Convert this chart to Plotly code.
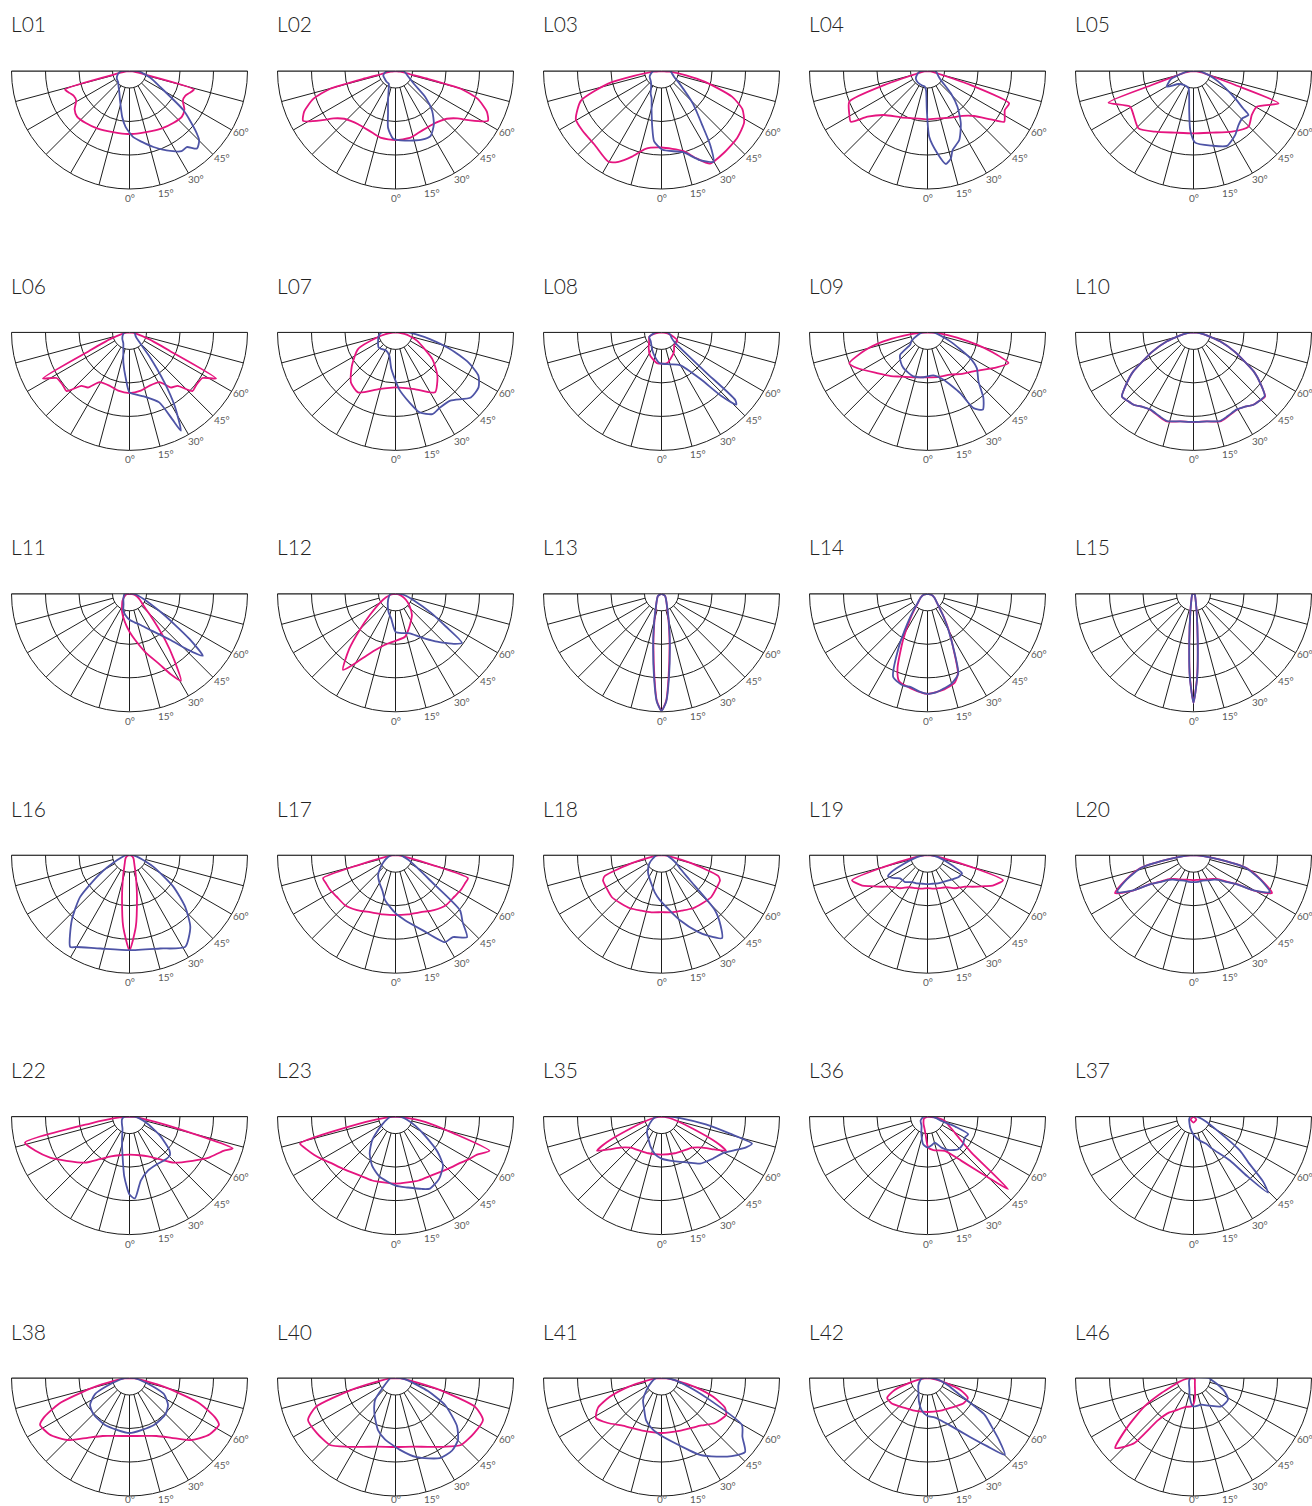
import math
import plotly.graph_objects as go

# ---------------- data: (gamma angle in degrees, relative intensity) ----------------
# angle 0 = straight down, positive = towards the labelled (right) side
CHART_NAMES = ["L01", "L02", "L03", "L04", "L05",
               "L06", "L07", "L08", "L09", "L10",
               "L11", "L12", "L13", "L14", "L15",
               "L16", "L17", "L18", "L19", "L20",
               "L22", "L23", "L35", "L36", "L37",
               "L38", "L40", "L41", "L42", "L46"]

ANGLE_TICKS = [0, 15, 30, 45, 60]
ANGLE_TICK_TEXT = ["0°", "15°", "30°", "45°", "60°"]
RING_VALUES = [17, 50.5, 84, 118]
SPOKE_ANGLES = [-90, -75, -60, -45, -30, -15, 0, 15, 30, 45, 60, 75, 90]

L01_C0 = [(-90,0),(-84,3),(-78,12),(-74,67),(-70,64),(-66,61),(-61,61),(-55,67),(-49,69.5),(-40,68),(-30,66),(-20,64),(-10,63),(0,63),(10,63),(20,64),(30,66),(40,68),(49,69.5),(55,67),(61,61),(66,61),(70,64),(74,67),(78,12),(84,3),(90,0)]
L01_C90 = [(-90,8),(-75,12),(-60,14.7),(-45,16),(-38,18),(-25,24),(-18,30.7),(-9,46.6),(-4,56),(3,66),(10,72),(17.5,79.7),(25,87.7),(33,95.6),(37,95.2),(41,102.8),(45,98.5),(48,88.5),(54,66.8),(62.5,34.6),(72,22),(80,14),(86,10.7),(90,9)]

L02_C0 = [(-90,0),(-82,5),(-77.5,15),(-76.5,32),(-74.8,67.6),(-71.3,86.8),(-66,100),(-61.6,105),(-56,88),(-52.6,78),(-47,70),(-42,67),(-35,65),(-29,64.8),(-20,66),(-12,68.4),(0,69),(12,68.4),(20,66),(29,64.8),(35,65),(42,67),(47,70),(52.6,78),(56,88),(61.6,105),(66,100),(71.3,86.8),(74.8,67.6),(76.5,32),(77.5,15),(82,5),(90,0)]
L02_C90 = [(-90,8),(-80,11),(-70,13),(-55.5,13.2),(-40,14),(-28,14.3),(-20,20),(-14.2,30.5),(-10,43),(-7.5,57.2),(-2,67.7),(7.8,70.3),(21,73.6),(28.2,74),(35.7,65.7),(42.7,54),(48.8,39.7),(54,24.3),(66,14.1),(80,10),(90,8)]

L03_C0 = [(-90,0),(-85,8),(-80,28),(-76.7,54.8),(-69.8,85.8),(-60.6,98.3),(-52.7,99),(-42.2,99.6),(-30.5,105),(-25.4,100.5),(-19,90.6),(-11.6,79.4),(0,76.5),(15,82.7),(21.8,94),(27.7,104.5),(37,103),(48.5,101),(58,97.4),(64.8,89.4),(70,75),(76,45),(80,25),(85,8),(90,0)]
L03_C90 = [(-90,8),(-75,11),(-64,13.2),(-45,15),(-35,18),(-25.5,25.2),(-20,29),(-14,41),(-9.2,57.5),(-6,70.7),(0.7,78.8),(14.8,84),(23.3,97),(29.8,104.6),(33.4,88.3),(36.4,70.5),(43.8,45.6),(55,22),(65,14),(75,11),(90,9)]

L04_C0 = [(-90,0),(-85,3),(-80,6),(-75,15),(-72,45),(-68.6,84),(-61.6,89),(-56.5,92),(-52.7,75.4),(-44.6,61.8),(-30,53.5),(-15,49),(0,48.3),(15,49),(26.6,52.2),(38,57),(46,64.8),(52.6,79.7),(56.5,92),(63.2,86.6),(68.4,87.8),(72,45),(75,15),(80,6),(85,3),(90,0)]
L04_C90 = [(-90,7),(-75,10),(-58,13.8),(-40,15),(-20,15.5),(-9.7,15.9),(-4,20),(-1,39),(1.5,65.7),(6.9,83),(11.2,94.8),(15,90.4),(17.6,82.9),(24.7,76),(32.5,62),(40,46.6),(46.3,32.3),(56,16),(65,12),(75,10),(90,8)]

L05_C0 = [(-90,0),(-85,3),(-80,8),(-74,20),(-71.4,44),(-69.6,90.7),(-60.6,72.7),(-53.7,74.4),(-43.8,79.4),(-32.3,71.8),(-16.6,64.3),(0,62.3),(16.6,64.3),(32.3,71.8),(44.7,78.2),(53,73),(60.6,72.7),(69.2,91),(71.4,44),(74,20),(80,8),(85,3),(90,0)]
L05_C90 = [(-90,5),(-80,10),(-70,24),(-59.6,31),(-49,19.8),(-35,17),(-16,18),(-10,25),(-6.3,39.2),(-3.2,59),(1.3,71.7),(13.8,76.9),(24,82),(33,76.4),(39.8,70.3),(46,68),(51.3,70.4),(53,62),(56.7,49.8),(66.9,27),(75,16),(85,8),(90,6)]

L06_C0 = [(-90,0),(-84,3),(-78,8),(-71,20.6),(-65.4,44),(-62,98),(-58,86),(-52,85),(-47,86),(-42,72),(-37,69),(-31,58),(-20,57),(-11,59.4),(0,60.7),(11,59.4),(20,57),(31,58),(37,69),(42,72),(47,86),(52,85),(58,86),(62,98),(65.4,44),(71,20.6),(78,8),(84,3),(90,0)]
L06_C90 = [(-90,5),(-70,7),(-47,9.8),(-30,12.4),(-20,18),(-11.6,30.6),(-4.4,46.8),(0,60),(12.7,65.6),(23,76),(26.2,96.6),(27.6,110.9),(31.6,86),(34.9,61),(39.9,30.4),(53,8.4),(70,6),(90,5)]

L07_C0 = [(-90,0),(-85,4),(-80,10),(-75,18),(-66,41),(-52.6,54.9),(-41.7,67),(-32,70.7),(-16.6,59.2),(0,55),(18.5,59.8),(33.4,71.8),(44,60.3),(54.1,45.5),(68.9,23),(75,15),(80,9),(85,4),(90,0)]
L07_C90 = [(-90,14),(-76.7,17.4),(-48.4,22.6),(-26.7,20.5),(-15,24),(-6.4,36.9),(3.6,56.8),(11.2,71.3),(16.8,83.6),(24.3,89.6),(30.7,87.3),(38.8,87.6),(49.2,99.5),(56.5,99.6),(62.4,93.6),(67.6,78.8),(73,57.4),(79,35),(85,20),(90,13)]

L08_C0 = [(-90,0),(-80,6),(-70,13),(-51,15.9),(-40,20),(-25.9,25.9),(-8.5,31),(10.4,31.2),(31.6,23.5),(45,18),(62.4,17.9),(70,13),(80,6),(90,0)]
L08_C90 = [(-90,6),(-70,13),(-50,14),(-30,19),(-17.1,24.4),(-3.7,30.8),(15,33),(29.5,37.6),(39.9,60.8),(43.2,86.9),(46,104),(47.5,100),(48,60),(49.5,30),(53,16.6),(60,12),(75,9),(90,6)]

L09_C0 = [(-90,0),(-86,8),(-82,25),(-78.4,45),(-74,65),(-68.5,84),(-63.2,79),(-51.2,65),(-40,57),(-31.8,52),(-15,46.5),(0,45),(15,46),(28.2,48),(40,54),(49.7,60.3),(63.2,77.6),(69.3,86.6),(73,68),(76,50.8),(80,30),(85,12),(90,0)]
L09_C90 = [(-90,5),(-75,10),(-62,18),(-54.6,21.3),(-50.7,35.3),(-42,40),(-33.9,43),(-17.6,46.2),(-5,45),(7.9,43.4),(18.7,50),(28.3,68.9),(31.3,88.6),(35.6,95),(40.4,86.3),(46.1,70.7),(54.1,60.9),(59,49.8),(68.4,24.4),(78,12),(90,6)]

L10_C0 = [(-90,0),(-85,5),(-80,10),(-75,18),(-71.4,28),(-65,45),(-57,72),(-52,86),(-48.2,96),(-44,95),(-39.7,94),(-34,90),(-29.3,88.6),(-22,91),(-16.7,93),(-8.5,90),(0,89.7),(8.5,90),(16.7,93),(22,91),(29.3,88.6),(34,90),(39.7,94),(44,95),(48.2,96),(52,86),(57,72),(65,45),(71.4,28),(75,18),(80,10),(85,5),(90,0)]
L10_C90 = [(-90,0),(-85,5),(-80,10),(-75,18),(-71.4,28),(-65,45),(-57,72),(-52,86),(-48.2,96),(-44,95),(-39.7,94),(-34,90),(-29.3,88.3),(-22,90.5),(-16.7,92.5),(-8.5,90),(0,89.5),(8.5,90),(16.7,92.5),(22,90.5),(29.3,88.3),(34,90),(39.7,94),(44,95),(48.2,95.5),(52,86),(57,72),(65,45),(71.4,28),(75,18),(80,10),(85,5),(90,0)]

L11_C0 = [(-90,0),(-80,3),(-60,6),(-45,10),(-30,15),(-22.6,19.5),(-10,28),(0,38),(6.8,46.3),(15,60),(23.2,77),(27,90),(30.6,101),(34,80),(37.7,58),(44.3,29.3),(50,18),(60,12),(70,8),(80,4),(90,0)]
L11_C90 = [(-90,5),(-70,6),(-50,8),(-30,12),(-20,18),(-10,22),(0,26),(10,29),(18.7,32.7),(30,42),(41.4,61.3),(46,80),(49.8,96),(53,75),(55.7,55),(60,35),(70,15),(80,8),(90,5)]

L12_C0 = [(-90,0),(-80,4),(-70,10),(-60,18),(-50.5,33),(-45,50),(-40,72),(-34.6,92.4),(-30,80),(-25,68),(-20,60),(-11.6,52),(0,47),(12.5,44),(20,38),(30,31),(38,26.7),(50,18),(60,12),(70,7),(80,3),(90,0)]
L12_C90 = [(-90,5),(-60,8),(-40,12),(-20,20),(-10,25),(0,38),(10,40),(20,42),(30,50),(40,62),(50,78),(53.6,82.6),(57,60),(62,40),(70,20),(80,10),(90,5)]

L13_C0 = [(-90,0),(-60,4),(-45,6),(-30,10),(-20,17),(-15,27),(-10,46),(-5,82),(-2.5,107),(0,117),(2.5,107),(5,82),(10,46),(15,27),(20,17),(30,10),(45,6),(60,4),(90,0)]
L13_C90 = [(-90,0),(-60,4),(-45,6),(-30,10),(-20,18),(-15,28),(-10,48),(-5,85),(-2.5,108),(0,117),(2.5,108),(5,85),(10,48),(15,28),(20,18),(30,10),(45,6),(60,4),(90,0)]

L14_C0 = [(-90,0),(-75,4),(-60,8),(-45,14),(-40,20),(-34,32),(-28,52),(-22,80),(-18,92),(-10,96),(0,100),(10,97),(17,93),(21,85),(25,62),(30,43),(35,29),(45,14),(60,8),(75,4),(90,0)]
L14_C90 = [(-90,0),(-75,4),(-60,8),(-45.8,14.4),(-40,22),(-34,36),(-28.3,60.5),(-22.4,90),(-15,95),(-10.1,94.8),(-5,98),(0,100),(5,99),(10,96),(15,93),(21,85.7),(25.7,59.2),(30,42),(35,28),(45,14),(60,8),(75,4),(90,0)]

L15_C0 = [(-90,0),(-60,1.5),(-30,3.5),(-20,6),(-10,18),(-5,48),(-2.5,83),(0,109),(2.5,83),(5,48),(10,18),(20,6),(30,3.5),(60,1.5),(90,0)]
L15_C90 = [(-90,0),(-60,1.5),(-30,3.5),(-20,6),(-10,18),(-5,49),(-2.5,84),(0,109),(2.5,84),(5,49),(10,18),(20,6),(30,3.5),(60,1.5),(90,0)]

L16_C0 = [(-90,0),(-75,2),(-60,4),(-45,6),(-30,9.5),(-20,17),(-15,26),(-10,43),(-5,72),(0,95),(5,72),(10,43),(15,26),(20,17),(30,9.5),(45,6),(60,4),(75,2),(90,0)]
L16_C90 = [(-90,3),(-80,6),(-68,13.6),(-58,34.6),(-49.8,64.6),(-41.6,86.9),(-32.9,109.2),(-30,106),(-17.4,97.8),(0,95),(18.2,98.2),(31.3,107.3),(40.3,94),(47.1,76),(54.2,54.2),(64,26.7),(72,13),(80,7),(90,3)]

L17_C0 = [(-90,0),(-85,3),(-80,10),(-75,40),(-72.4,76),(-68,75),(-61.9,74),(-55,72),(-45.3,71),(-35,67),(-24,62.4),(-12,60.5),(0,60),(12,60.5),(24,62.4),(35,67),(45.3,71),(55,72),(61.9,74),(68,75),(72.4,76),(75,40),(80,10),(85,3),(90,0)]
L17_C90 = [(-90,4),(-75,8),(-60,14),(-50,20),(-41,26.6),(-30,32),(-20,38),(-13.1,46.2),(0,58),(8.3,65.7),(20,80),(29.6,100),(35,100),(41.1,108.8),(45,95),(49.5,84.8),(54,42.6),(60,25),(70,14),(80,8),(90,5)]

L18_C0 = [(-90,0),(-85,3),(-80,10),(-75,30),(-70,60),(-66.9,63.6),(-60,64),(-49.7,65),(-40,63),(-30.7,61.7),(-20,59),(-10,58),(0,57),(10,58),(20,59),(30.7,61.7),(40,63),(49.7,65),(60,64),(66.9,63.6),(70,60),(75,30),(80,10),(85,3),(90,0)]
L18_C90 = [(-90,5),(-70,9),(-55,15),(-38.5,21.7),(-30,25),(-20,30),(-10,38),(-2,45),(10,58),(15.9,67.6),(25,84),(30,93),(36.1,102.7),(40,92),(44.2,76.7),(48.7,37.9),(55,22),(60,18),(70,11),(80,7),(90,5)]

L19_C0 = [(-90,0),(-85,5),(-80,15),(-75,45),(-71.7,79.5),(-65,72),(-61.7,65.3),(-55,55),(-50,49),(-39.8,43),(-30,37),(-20,35),(-10,34),(0,33),(10,34),(20,35),(30,37),(39.8,43),(50,49),(55,55),(61.7,65.3),(65,72),(71.7,79.5),(75,45),(80,15),(85,5),(90,0)]
L19_C90 = [(-90,3),(-80,10),(-70,25),(-65,40),(-62,44.7),(-55,40),(-50,36),(-39.8,35),(-30,31),(-20,30),(-10,29),(0,29),(10,29),(20,30),(30,31),(40,33),(50,36),(55,38),(62.4,38.9),(65,33),(70,22),(80,10),(90,3)]

L20_C0 = [(-90,0),(-85,10),(-80,30),(-76.3,55),(-70,72),(-64.2,87.2),(-60,72),(-56.3,52.3),(-50,40),(-45,34),(-40,31),(-30,28),(-20,26),(-10,25),(0,25),(10,25),(20,26),(30,28),(40,31),(45,34),(50,40),(56.3,52.3),(60,72),(64.2,87.2),(70,72),(76.3,55),(80,30),(85,10),(90,0)]
L20_C90 = [(-90,0),(-85,10),(-80,29),(-76.3,54),(-70,71),(-64.2,85),(-60,71),(-56.3,53),(-50,41),(-45,35),(-40,32),(-30,29),(-20,27),(-10,27),(0,27),(10,27),(20,27),(30,29),(40,32),(45,35),(50,41),(56.3,53),(60,71),(64.2,85),(70,71),(76.3,54),(80,29),(85,10),(90,0)]

L22_C0 = [(-90,0),(-85,10),(-80,40),(-76,107.7),(-70,100),(-62.7,89.4),(-55,77),(-44,64),(-35,52),(-25,44),(-15,40),(0,38),(15,40),(25,44),(35,52),(44,64),(55,77),(62.7,89.4),(70,100),(72.8,108),(77,40),(82,12),(86,5),(90,0)]
L22_C90 = [(-90,5),(-70,8),(-50,10),(-30,14),(-17.4,25),(-10,40),(-5,60),(0,78),(3.8,82),(10,65),(18.9,57),(30,55),(40,56),(46,56),(50,52),(58,36),(70,18),(80,10),(90,5)]

L23_C0 = [(-90,0),(-85,8),(-80,30),(-74.2,99.2),(-70,95),(-65,90),(-60,85),(-54.9,80),(-45,74),(-31,68.9),(-20,68),(0,67),(20,68),(31,68.9),(45,74),(54.9,80),(60,85),(65,90),(70,100),(74,60),(80,30),(85,8),(90,0)]
L23_C90 = [(-90,5),(-75,8),(-60,15),(-50,25),(-44.4,33.6),(-35,45),(-25.6,54.3),(-15,62),(0,69),(10,72),(20,77),(25.6,79.8),(35,76),(44.1,68.2),(50,55),(57.2,35),(65,22),(75,12),(90,5)]

L35_C0 = [(-90,0),(-85,3),(-80,8),(-75,15),(-69,33.7),(-65,60),(-62.2,72.9),(-58,62),(-55,55),(-50,48),(-45,44),(-40,42),(-30,40),(-20,39),(0,38),(20,39),(30,40),(40,42),(45,44),(50,48),(55,55),(58,62),(62.2,72.9),(65,60),(69,33.7),(75,15),(80,8),(85,3),(90,0)]
L35_C90 = [(-90,5),(-70,10),(-50,18),(-42.2,21.6),(-30,26),(-20,32),(-10,38),(0,42),(10.9,44.8),(20,48),(30,53),(39.3,60.8),(50,66),(60,72),(65,80),(70,90),(73.4,94.4),(76,70.6),(80,45),(85,20),(90,8)]

L36_C0 = [(-90,0),(-60,4),(-30,8),(-15,12),(-6.6,17.4),(1.3,31),(10,34),(26.8,38.4),(37.5,55.8),(44.9,86),(48,108.5),(50.7,56.8),(55,40),(59.6,31.6),(66,24),(76,17.8),(82,10),(90,0)]
L36_C90 = [(-90,4),(-60,8),(-32.8,11),(-20,18),(-8.9,28),(0,31),(8,29),(15.7,27),(24.3,34),(33,40),(43.3,44.8),(52,45),(60.6,42.8),(66.6,44.3),(70,30),(73,14.6),(80,9),(90,5)]

L37_C0 = [(-90,0),(-45,4),(0,6),(45,4),(90,0)]
L37_C90 = [(-90,3),(-60,5),(-30,8),(-15,12),(0,18),(15,25),(25,30),(30,37),(39.7,57),(42,80),(44.4,106.4),(47,95),(50,72),(53.8,57.6),(60.8,24.6),(70,12),(80,6),(90,3)]

L38_C0 = [(-90,0),(-85,5),(-80,15),(-75,40),(-70,75),(-65,95),(-62.3,101),(-55,98),(-50,93),(-43.8,86),(-35,73),(-25,64),(-15,60),(0,58),(15,60),(25,64),(35,73),(43.8,86),(50,93),(55,98),(62.3,101),(65,95),(70,75),(75,40),(80,15),(85,5),(90,0)]
L38_C90 = [(-90,5),(-80,10),(-70,25),(-65,38),(-55.6,47.8),(-45,51),(-27.5,53),(0,55),(27.5,53),(45,51),(55,47),(65,38),(70,25),(80,10),(90,5)]

L40_C0 = [(-90,0),(-85,5),(-80,15),(-75,45),(-70,85),(-64.4,97),(-55,96),(-44.4,93.7),(-35,84),(-25,76),(-15,71),(0,69),(15,71),(25,76),(35,84),(44.4,93.7),(55,96),(64.4,97),(70,85),(75,45),(80,15),(85,5),(90,0)]
L40_C90 = [(-90,5),(-70,8),(-55,14),(-43,30),(-30,42),(-18.6,54.9),(-10,62),(3.6,72),(15,82),(29,91.5),(38,92),(45.2,88),(52,78),(61.4,56.4),(68,35),(80,12),(90,5)]

L41_C0 = [(-90,0),(-85,5),(-80,15),(-75,35),(-70,55),(-65,70),(-58.6,76.7),(-50,70),(-40,62),(-30,58),(-20,56),(0,55),(20,56),(30,58),(40,62),(50,70),(60.2,74.4),(65,70),(70,55),(75,35),(80,15),(85,5),(90,0)]
L41_C90 = [(-90,5),(-70,10),(-50,20),(-40,28.7),(-30,35),(-20,45),(-10,52),(-1.5,57),(10,65),(20,76),(26.6,86),(35,96),(42,105),(48.5,111.6),(54,100),(59.7,93.2),(65.6,53),(70,35),(80,15),(90,5)]

L42_C0 = [(-90,0),(-85,3),(-80,8),(-75,18),(-70,35),(-63.7,45),(-55,44),(-45,40),(-35,37),(-20,35),(0,34),(20,35),(35,37),(45,40),(55,44),(63.7,45),(70,35),(75,18),(80,8),(85,3),(90,0)]
L42_C90 = [(-90,5),(-70,8),(-50,12),(-30,18),(-20,25),(-10,33),(0,38),(10,40),(16.6,43.8),(25,52),(35.8,72.7),(41,90),(45.2,109),(49,95),(53,80),(57.2,68),(62.4,36.7),(70,22),(80,12),(90,5)]

L46_C0 = [(-90,0),(-85,5),(-80,10),(-75,15),(-70.6,20),(-65,35),(-59.9,56.6),(-53.6,81.5),(-48.2,105),(-45,97),(-42.2,87.8),(-40,55),(-35,42),(-30,38),(-26.2,35.3),(-15,30),(-4.6,28.5),(0,26),(5,18),(10,8),(20,4),(45,2),(90,0)]
L46_C90 = [(-90,3),(-60,5),(-40,7),(-20,12),(-12,18.8),(-1,28.4),(16,27.8),(30,32),(44.3,39.7),(57.8,40.7),(66.6,33.8),(75,25),(84.5,17.8),(90,15)]

C0_CURVES = [L01_C0, L02_C0, L03_C0, L04_C0, L05_C0, L06_C0, L07_C0, L08_C0, L09_C0, L10_C0,
             L11_C0, L12_C0, L13_C0, L14_C0, L15_C0, L16_C0, L17_C0, L18_C0, L19_C0, L20_C0,
             L22_C0, L23_C0, L35_C0, L36_C0, L37_C0, L38_C0, L40_C0, L41_C0, L42_C0, L46_C0]
C90_CURVES = [L01_C90, L02_C90, L03_C90, L04_C90, L05_C90, L06_C90, L07_C90, L08_C90, L09_C90, L10_C90,
              L11_C90, L12_C90, L13_C90, L14_C90, L15_C90, L16_C90, L17_C90, L18_C90, L19_C90, L20_C90,
              L22_C90, L23_C90, L35_C90, L36_C90, L37_C90, L38_C90, L40_C90, L41_C90, L42_C90, L46_C90]

# ---------------- styling / layout ----------------
W, H = 1312, 1506
COL_CX = [129.5, 395.5, 661.5, 927.5, 1193.5]
ROW_CY = [71, 332.4, 593.8, 855.2, 1116.6, 1378]
TITLE_DY = 47
R_PX = 118                     # pixel radius of the outer ring
LABEL_R_PX = 127               # pixel radius of the angle labels
PINK = "#E5157F"
BLUE = "#4E54A6"
GRID = "#1e1e1e"
LABEL = "#5a5a5a"

fig = go.Figure()
layout_polars = {}
annotations = []

for i, name in enumerate(CHART_NAMES):
    row, col = divmod(i, 5)
    cx, cy = COL_CX[col], ROW_CY[row]
    key = "polar" if i == 0 else f"polar{i+1}"
    sub = key

    layout_polars[key] = dict(
        domain=dict(x=[(cx - R_PX) / W, (cx + R_PX) / W],
                    y=[1 - (cy + R_PX) / H, 1 - cy / H]),
        sector=[180, 360],
        bgcolor="rgba(0,0,0,0)",
        radialaxis=dict(range=[0, RING_VALUES[-1]], tickvals=RING_VALUES,
                        showticklabels=False, ticks="", showline=False,
                        gridcolor=GRID, gridwidth=1),
        angularaxis=dict(rotation=270, direction="counterclockwise",
                         thetaunit="degrees", showgrid=False,
                         showline=True, linecolor=GRID, linewidth=1,
                         ticks="", showticklabels=False),
    )

    # spokes of the grid (from the inner ring to the outer ring)
    sr, st = [], []
    for a in SPOKE_ANGLES:
        sr += [RING_VALUES[0], RING_VALUES[-1], None]
        st += [a, a, None]
    fig.add_trace(go.Scatterpolar(r=sr, theta=st, mode="lines", subplot=sub,
                                  line=dict(color=GRID, width=1),
                                  hoverinfo="skip", showlegend=False))

    for curve, color in ((C0_CURVES[i], PINK), (C90_CURVES[i], BLUE)):
        pts = list(curve) + [curve[0]]
        fig.add_trace(go.Scatterpolar(
            theta=[p[0] for p in pts], r=[p[1] for p in pts],
            mode="lines", subplot=sub,
            line=dict(color=color, width=1.8, shape="spline", smoothing=0.6),
            hoverinfo="skip", showlegend=False))

    # angle labels just outside the outer ring (right half only)
    for a, txt in zip(ANGLE_TICKS, ANGLE_TICK_TEXT):
        ang = math.radians(a + (1.5 if a else 0))
        px = cx + LABEL_R_PX * math.sin(ang)
        py = min(cy + LABEL_R_PX * math.cos(ang), H - 7)
        annotations.append(dict(
            text=txt, xref="paper", yref="paper",
            x=px / W, y=1 - py / H, xanchor="center", yanchor="middle",
            showarrow=False,
            font=dict(size=10, color=LABEL, family="Lato, sans-serif")))

    annotations.append(dict(
        text=name, xref="paper", yref="paper",
        x=(cx - R_PX - 3) / W, y=1 - (cy - TITLE_DY) / H,
        xanchor="left", yanchor="middle", showarrow=False,
        font=dict(size=21, color="#222222", family="Lato, sans-serif", weight=300)))

fig.update_layout(
    width=W, height=H,
    margin=dict(l=0, r=0, t=0, b=0),
    paper_bgcolor="white", plot_bgcolor="white",
    showlegend=False,
    annotations=annotations,
    **layout_polars,
)

fig.write_html("out.html", config={"displayModeBar": False},
               post_script="document.body.style.margin='0';")
